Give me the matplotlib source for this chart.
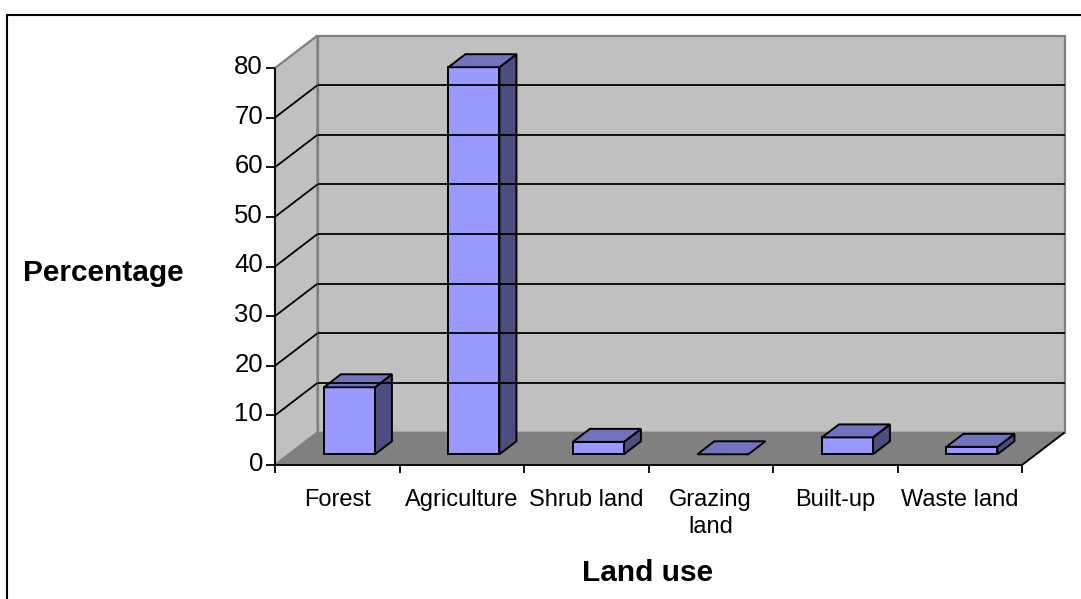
#!/usr/bin/python
#3D style column chart of land use, drawn on a flat axes
import numpy as np
import matplotlib
matplotlib.use("Agg")
import matplotlib.pyplot as plt
from matplotlib.patches import Polygon, Rectangle

categories = ['Forest', 'Agriculture', 'Shrub land', 'Grazing\nland', 'Built-up', 'Waste land']
values = [13.5, 78, 2.5, 0, 3.4, 1.5]
yticks = [0, 10, 20, 30, 40, 50, 60, 70, 80]

plt.rcParams['font.family'] = ['Liberation Sans', 'DejaVu Sans']

W, H = 1081, 599
fig = plt.figure(figsize=(W / 100, H / 100), dpi=100)
ax = fig.add_axes([0, 0, 1, 1])
ax.set_xlim(0, W)
ax.set_ylim(H, 0)
ax.axis('off')

# frame of the chart
ax.add_patch(Rectangle((7, 15), 1090, 600, fc='white', ec='black', lw=1.5))

# front plane in pixels
x0, x1 = 275, 1022
y0, y80 = 465, 68
dx, dy = 42.5, -32.5
n = len(categories)

def px(c, v, depth=0.0):
    return (x0 + (x1 - x0) * c / n + dx * depth,
            y0 + (y80 - y0) * v / 80.0 + dy * depth)

def poly(pts, fc, ec='black', lw=1.4):
    ax.add_patch(Polygon(pts, closed=True, fc=fc, ec=ec, lw=lw, joinstyle='miter'))

def seg(a, b, color='black', lw=1.3):
    ax.plot([a[0], b[0]], [a[1], b[1]], color=color, lw=lw, solid_capstyle='butt')

# walls and floor
poly([px(0, 0, 1), px(n, 0, 1), px(n, 80, 1), px(0, 80, 1)], '#c0c0c0', '#808080', 1.6)
poly([px(0, 0), px(0, 0, 1), px(0, 80, 1), px(0, 80)], '#c0c0c0', '#808080', 1.6)
poly([px(0, 0), px(n, 0), px(n, 0, 1), px(0, 0, 1)], '#808080', '#808080', 1.2)

# gridlines on side wall and back wall
for t in yticks[1:-1]:
    seg(px(0, t), px(0, t, 1))
    seg(px(0, t, 1), px(n, t, 1))

# axis lines
seg(px(0, 0), px(0, 80))
seg(px(0, 0), px(n, 0))
seg(px(n, 0), px(n, 0, 1))

# ticks and labels
for t in yticks:
    a = px(0, t)
    seg((a[0] - 9, a[1]), a)
    ax.text(a[0] - 12, a[1] - 1, str(t), ha='right', va='center', fontsize=18.5)
for i in range(n + 1):
    a = px(i, 0)
    seg(a, (a[0], a[1] + 8))
for i, name in enumerate(categories):
    a = px(i + 0.5, 0)
    ax.text(a[0], a[1] + 24, name, ha='center', va='top', fontsize=17, linespacing=1.27)

# columns, sitting in the middle of the depth
width = 0.41
d0, d1 = 0.33, 0.73
for i, v in enumerate(values):
    l, r = i + 0.485 - width / 2, i + 0.485 + width / 2
    if v > 0:
        poly([px(r, 0, d0), px(r, 0, d1), px(r, v, d1), px(r, v, d0)], '#4d4d80')
        poly([px(l, 0, d0), px(r, 0, d0), px(r, v, d0), px(l, v, d0)], '#9999ff')
    poly([px(l, v, d0), px(r, v, d0), px(r, v, d1), px(l, v, d1)], '#7272bf')

ax.text(103, 273, 'Percentage', ha='center', va='center', fontsize=21.5, fontweight='bold')
ax.text(648, 573, 'Land use', ha='center', va='center', fontsize=21.5, fontweight='bold')

fig.savefig('out.png', dpi=100)
